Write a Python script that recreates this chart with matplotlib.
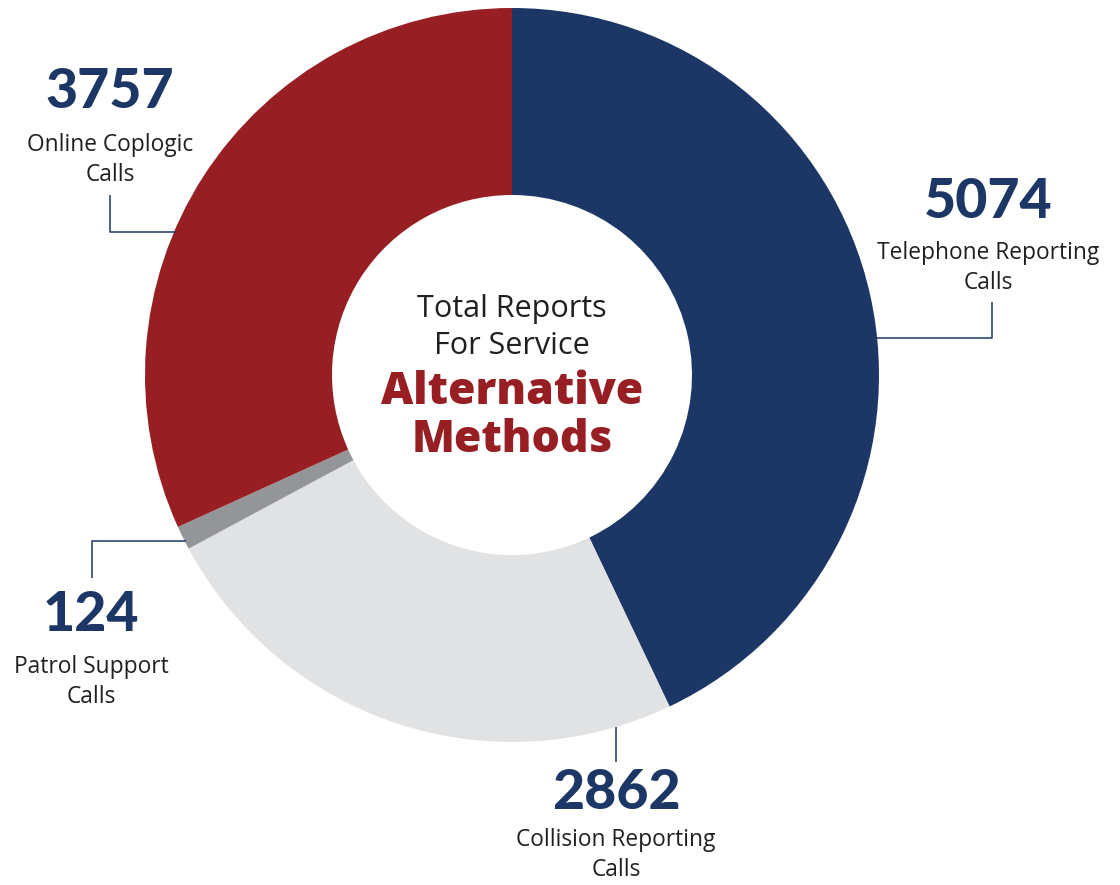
import matplotlib
matplotlib.use("Agg")
import matplotlib.pyplot as plt

categories = ["Telephone Reporting\nCalls", "Collision Reporting\nCalls", "Patrol Support\nCalls", "Online Coplogic\nCalls"]
values = [5074, 2862, 124, 3757]
colors = ["#1c3766", "#e1e2e4", "#939598", "#971e22"]
center_lines = ["Total Reports", "For Service"]
center_bold = ["Alternative", "Methods"]

W, H = 1120, 885
fig = plt.figure(figsize=(W / 100, H / 100), dpi=100)
ax = fig.add_axes([0, 0, 1, 1])
ax.set_xlim(0, W)
ax.set_ylim(0, H)
ax.set_aspect("equal")
ax.axis("off")

def Y(py):
    return H - py

cx, cy, R, r = 512, 375, 367, 180
ax.pie(values, colors=colors, startangle=90, counterclock=False,
       center=(cx, Y(cy)), radius=R, frame=True,
       wedgeprops=dict(width=R - r, linewidth=0))
ax.set_xlim(0, W)
ax.set_ylim(0, H)
ax.axis("off")

navy = "#1c3766"
txt = "#231f20"
numfont = dict(family="Lato", fontweight="black", color=navy, fontsize=40, ha="center", va="center")
labfont = dict(family="Open Sans", color=txt, fontsize=16.4, ha="center", va="center", linespacing=1.34)

# label placements: (number center x, number y, label y)
place = {
    0: (988, 202, 268),
    1: (616, 793, 855),
    2: (91, 615, 682),
    3: (110, 92, 160),
}
for i, (x, ny, ly) in place.items():
    ax.text(x, Y(ny), f"{values[i]}", **numfont)
    ax.text(x, Y(ly), categories[i], **labfont)

lk = dict(color=navy, lw=1.1, solid_capstyle="butt")
# leader lines
ax.plot([110, 110, 176], [Y(195), Y(232), Y(232)], **lk)
ax.plot([876, 992, 992], [Y(338), Y(338), Y(302)], **lk)
ax.plot([92, 92, 186], [Y(578), Y(541), Y(541)], **lk)
ax.plot([616, 616], [Y(727), Y(762)], **lk)

# center text
ax.text(512, Y(309), center_lines[0], family="Open Sans", color=txt, fontsize=22, ha="center", va="center")
ax.text(512, Y(346), center_lines[1], family="Open Sans", color=txt, fontsize=22, ha="center", va="center")
ax.text(512, Y(392), center_bold[0], family="Open Sans", fontweight="heavy", color="#971e22", fontsize=32, ha="center", va="center")
ax.text(512, Y(441), center_bold[1], family="Open Sans", fontweight="heavy", color="#971e22", fontsize=32, ha="center", va="center")

fig.savefig("out.png", dpi=100, facecolor="white")
